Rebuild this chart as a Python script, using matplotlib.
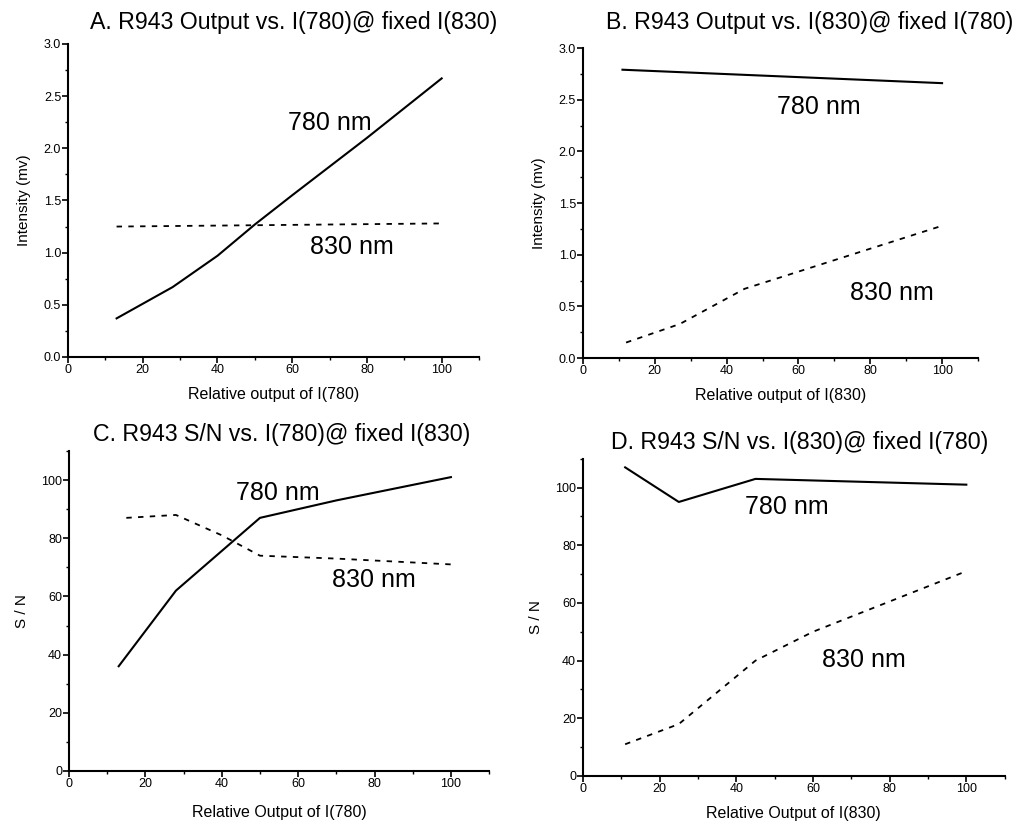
import matplotlib.pyplot as plt
from matplotlib.ticker import MultipleLocator

plt.rcParams['font.family'] = ['Liberation Sans', 'DejaVu Sans']

# A: output vs I(780), fixed I(830)
a_x780 = [13, 28, 40, 50, 60, 80, 100]
a_y780 = [0.37, 0.67, 0.97, 1.27, 1.55, 2.10, 2.67]
a_x830 = [13, 100]
a_y830 = [1.25, 1.28]

# B: output vs I(830), fixed I(780)
b_x780 = [11, 100]
b_y780 = [2.79, 2.66]
b_x830 = [12, 27, 45, 100]
b_y830 = [0.15, 0.33, 0.67, 1.28]

# C: S/N vs I(780)
c_x780 = [13, 28, 50, 70, 100]
c_y780 = [36, 62, 87, 93, 101]
c_x830 = [15, 28, 40, 50, 70, 100]
c_y830 = [87, 88, 81, 74, 73, 71]

# D: S/N vs I(830)
d_x780 = [11, 25, 45, 100]
d_y780 = [107, 95, 103, 101]
d_x830 = [11, 25, 45, 60, 100]
d_y830 = [11, 18, 40, 50, 71]

panels = [
    dict(pos=[0.0663, 0.5673, 0.4006, 0.3794],
         title="A. R943 Output vs. I(780)@ fixed I(830)", tpos=(294, 22),
         xlabel="Relative output of I(780)", ylabel="Intensity (mv)",
         s780=(a_x780, a_y780), s830=(a_x830, a_y830),
         ylim=3.0, ymaj=0.5, ymin=0.25, yfmt="%.1f",
         t780=(70, 2.24), t830=(76, 1.05), xpad=8),
    dict(pos=[0.5682, 0.566, 0.385, 0.3758],
         title="B. R943 Output vs. I(830)@ fixed I(780)", tpos=(810, 23),
         xlabel="Relative output of I(830)", ylabel="Intensity (mv)",
         s780=(b_x780, b_y780), s830=(b_x830, b_y830),
         ylim=3.0, ymaj=0.5, ymin=0.25, yfmt="%.1f",
         t780=(65.7, 2.43), t830=(85.9, 0.63), xpad=8),
    dict(pos=[0.0673, 0.0655, 0.4094, 0.3879],
         title="C. R943 S/N vs. I(780)@ fixed I(830)", tpos=(282, 435),
         xlabel="Relative Output of I(780)", ylabel="S / N",
         s780=(c_x780, c_y780), s830=(c_x830, c_y830),
         ylim=110, ymaj=20, ymin=10, yfmt="%d",
         t780=(54.8, 95.4), t830=(79.9, 65.6), xpad=11),
    dict(pos=[0.5682, 0.0594, 0.411, 0.3846],
         title="D. R943 S/N vs. I(830)@ fixed I(780)", tpos=(800, 442),
         xlabel="Relative Output of I(830)", ylabel="S / N",
         s780=(d_x780, d_y780), s830=(d_x830, d_y830),
         ylim=110, ymaj=20, ymin=10, yfmt="%d",
         t780=(53.2, 93.3), t830=(73.4, 40.2), xpad=8),
]

W, H = 1026, 825
fig = plt.figure(figsize=(W / 100, H / 100), dpi=100)

for p in panels:
    ax = fig.add_axes(p['pos'])
    ax.plot(*p['s780'], color='black', lw=1.5, ls='-')
    ax.plot(*p['s830'], color='black', lw=1.3, ls=(0, (3, 3.5)))
    ax.set_xlim(0, 110)
    ax.set_ylim(0, p['ylim'])
    ax.spines['top'].set_visible(False)
    ax.spines['right'].set_visible(False)
    ax.spines['left'].set_linewidth(1.5)
    ax.spines['bottom'].set_linewidth(1.5)
    ax.xaxis.set_major_locator(MultipleLocator(20))
    ax.xaxis.set_minor_locator(MultipleLocator(10))
    ax.yaxis.set_major_locator(MultipleLocator(p['ymaj']))
    ax.yaxis.set_minor_locator(MultipleLocator(p['ymin']))
    ax.yaxis.set_major_formatter(plt.FormatStrFormatter(p['yfmt']))
    ax.tick_params(which='major', direction='out', length=4, width=1.2,
                   labelsize=9, pad=1)
    ax.tick_params(which='minor', direction='out', length=2, width=1)
    fig.text(p['tpos'][0] / W, 1 - p['tpos'][1] / H, p['title'],
             fontsize=16.7, ha='center', va='center')
    ax.set_xlabel(p['xlabel'], fontsize=11.5, labelpad=p['xpad'])
    ax.set_ylabel(p['ylabel'], fontsize=11, labelpad=9)
    ax.text(*p['t780'], "780 nm", fontsize=18, ha='center', va='center')
    ax.text(*p['t830'], "830 nm", fontsize=18, ha='center', va='center')

fig.savefig("out.png", dpi=100)
